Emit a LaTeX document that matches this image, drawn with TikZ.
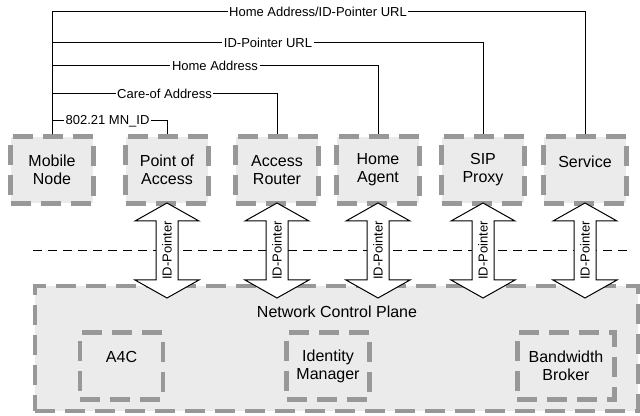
\documentclass[tikz,border=0pt]{standalone}
\usepackage{fontspec}
\setmainfont{Liberation Sans}
\definecolor{boxfill}{RGB}{235,235,235}
\definecolor{boxline}{RGB}{152,152,152}
\tikzset{
  entity/.style={draw=boxline, fill=boxfill, line width=3.3pt,
    dash pattern=on 15pt off 7.5pt, inner sep=0pt, align=center,
    minimum width=62pt, minimum height=50pt,
    font=\fontsize{12}{13.5}\selectfont},
  oneline/.style={text depth=13pt},
  msg/.style={fill=white, inner sep=1pt, font=\fontsize{9.75}{11}\selectfont},
  ptrline/.style={draw, fill=white, line width=0.75pt, line join=miter},
  ptrtext/.style={rotate=90, inner sep=0pt, font=\fontsize{9.75}{11}\selectfont}
}
\begin{document}
\begin{tikzpicture}[x=0.75pt, y=-0.75pt]
\useasboundingbox (0,0) rectangle (640,416);

% Network control plane and its parts
\node [entity, minimum width=452pt, minimum height=94pt] (ncp) at (336.5,348.5) {};
\node [font=\fontsize{12}{13.5}\selectfont] (ncptext) at (337,312) {Network Control Plane};
\node [entity, oneline] (a4c) at (121.5,366) {A4C};
\node [entity] (idm) at (328,366) {Identity\\Manager};
\node [entity, minimum width=73pt] (bwb) at (566,366) {Bandwidth\\Broker};

% Dashed separation line
\draw [line width=0.75pt, dash pattern=on 6.75pt off 4.5pt] (33,251) -- (632,251);

% Entities on the top row
\node [entity] (mn) at (52,170) {Mobile\\Node};
\node [entity] (poa) at (167,170) {Point of\\Access};
\node [entity] (ar) at (277,170) {Access\\Router};
\node [entity] (ha) at (378,170) {Home\\Agent};
\node [entity] (sip) at (483,170) {SIP\\Proxy};
\node [entity, oneline] (srv) at (585,170) {Service};

% Messages from the mobile node
\node [msg] (m1) at (318,12) {Home Address/ID-Pointer URL};
\node [msg] (m2) at (268,43) {ID-Pointer URL};
\node [msg] (m3) at (215,66) {Home Address};
\node [msg] (m4) at (164.5,94) {Care-of Address};
\node [msg] (m5) at (107.5,121) {802.21 MN\_ID};

\draw [line width=0.75pt] (mn.north) |- (m1.west) (m1.east) -| (srv.north);
\draw [line width=0.75pt] (mn.north) |- (m2.west) (m2.east) -| (sip.north);
\draw [line width=0.75pt] (mn.north) |- (m3.west) (m3.east) -| (ha.north);
\draw [line width=0.75pt] (mn.north) |- (m4.west) (m4.east) -| (ar.north);
\draw [line width=0.75pt] (mn.north) |- (m5.west) (m5.east) -| (poa.north);

% ID-Pointer exchange with the control plane
\foreach \b in {poa,ar,ha,sip,srv} {
  \draw [ptrline] (\b.center) ++(0,33) -- ++(32,18) -- ++(-21,0) -- ++(0,59)
    -- ++(21,0) -- ++(-32,18) -- ++(-32,-18) -- ++(21,0) -- ++(0,-59)
    -- ++(-21,0) -- cycle;
  \path (\b.center) ++(0,80.5) node [ptrtext] (\b-ptr) {ID-Pointer};
}

\end{tikzpicture}
\end{document}
